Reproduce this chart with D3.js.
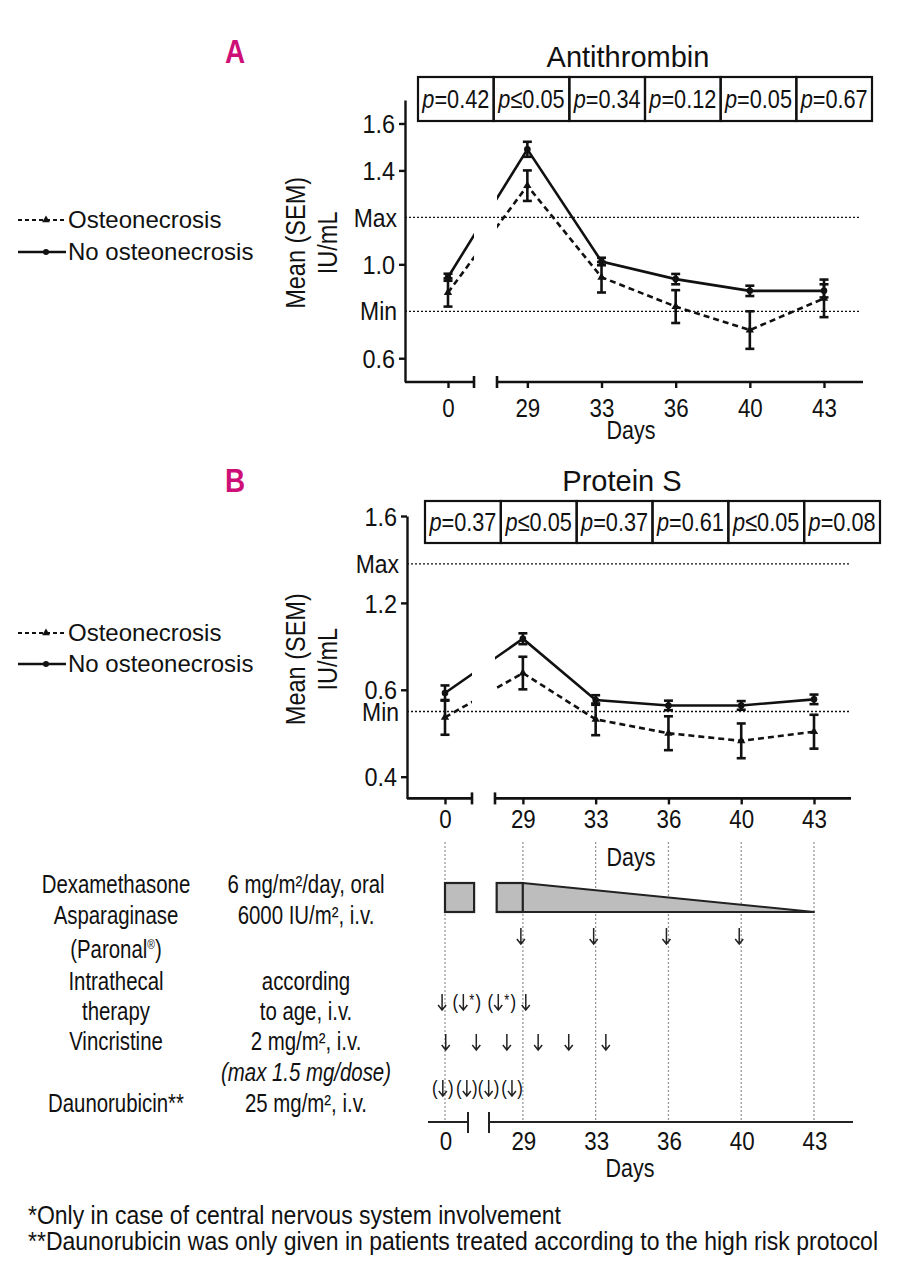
<!DOCTYPE html>
<html>
<head>
<meta charset="utf-8">
<script src="https://cdn.jsdelivr.net/npm/d3@7"></script>
<style>
  body { margin: 0; background: #fff; }
  svg text { fill: #111; }
</style>
</head>
<body>
<svg id="chart" width="899" height="1280"></svg>
<script>
// sampling days (categorical, axis broken between 0 and 29)
const days = ['0', '29', '33', '36', '40', '43'];

// Antithrombin, mean and SEM (IU/mL)
const atOst = [0.88, 1.335, 0.945, 0.82, 0.72, 0.855];
const atOstSem = [0.06, 0.065, 0.065, 0.07, 0.08, 0.08];
const atNoOst = [0.945, 1.49, 1.012, 0.937, 0.887, 0.887];
const atNoOstSem = [0.015, 0.032, 0.016, 0.022, 0.022, 0.028];
const atP = ['=0.42', '≤0.05', '=0.34', '=0.12', '=0.05', '=0.67'];
const atTicks = [0.6, 1.0, 1.4, 1.6];
const atTickLabels = ['0.6', '1.0', '1.4', '1.6'];
const atRange = [0.8, 1.2];

// Protein S, mean and SEM (IU/mL)
const psOst = [0.673, 0.877, 0.664, 0.6, 0.565, 0.607];
const psOstSem = [0.08, 0.075, 0.073, 0.078, 0.08, 0.078];
const psNoOst = [0.785, 1.035, 0.753, 0.728, 0.728, 0.756];
const psNoOstSem = [0.035, 0.025, 0.022, 0.022, 0.02, 0.022];
const psP = ['=0.37', '≤0.05', '=0.37', '=0.61', '≤0.05', '=0.08'];
const psTicks = [0.4, 0.8, 1.2, 1.6];
const psTickLabels = ['0.4', '0.6', '1.2', '1.6']; // printed as in the original figure
const psRange = [0.7, 1.38];

// treatment schedule
const drugNames = ['Dexamethasone', 'Asparaginase', '(Paronal®)', 'Intrathecal', 'therapy', 'Vincristine', 'Daunorubicin**'];
const drugDoses = ['6 mg/m²/day, oral', '6000 IU/m², i.v.', 'according', 'to age, i.v.', '2 mg/m², i.v.', '(max 1.5 mg/dose)', '25 mg/m², i.v.'];
const dexBlocks = [[0, 0.40], [0.71, 1.07]]; // slot units
const dexTaperEnd = '43';
const aspDays = ['29', '33', '36', '40'];
const itSlots = [-0.04, 0.30, 0.78, 1.11];
const itMarks = ['↓', '(↓*)', '(↓*)', '↓'];
const vcrSlots = [0.01, 0.43, 0.85, 1.28, 1.70, 2.21];
const dnrSlots = [-0.03, 0.30, 0.60, 0.92];
const dnrMarks = ['(↓)', '(↓)', '(↓)', '(↓)'];

const footnotes = [
  '*Only in case of central nervous system involvement',
  '**Daunorubicin was only given in patients treated according to the high risk protocol'
];

const SANS = '"Liberation Sans", Arial, sans-serif';
const INK = '#111';
const GAP = 0.07; // extra space after the axis break
const slot = i => (i === 0 ? 0 : i + GAP);

// squeeze text horizontally (no narrow face installed)
function condense(sel, k) {
  sel.each(function () {
    const t = d3.select(this);
    const x = +t.attr('x') || 0;
    const tr = t.attr('transform');
    t.attr('x', x / k).attr('transform', (tr ? tr + ' ' : '') + `scale(${k},1)`);
  });
  return sel;
}

const svg = d3.select('#chart');

const panels = [
  {
    key: 'A', title: 'Antithrombin', ost: atOst, ostSem: atOstSem, no: atNoOst, noSem: atNoOstSem, p: atP,
    ticks: atTicks, tickLabels: atTickLabels, range: atRange,
    letterY: 63, titleX: 628, titleY: 67, box: [418, 872, 77, 121],
    axisX: 405, yRange: [381.7, 100], yDomain: [0.5, 1.7], baseY: 382,
    xRange: [448, 824], xEnd: 863, brk: [474, 497], refEnd: 859,
    tickY: 417, daysY: 439, legendY: [220, 252]
  },
  {
    key: 'B', title: 'Protein S', ost: psOst, ostSem: psOstSem, no: psNoOst, noSem: psNoOstSem, p: psP,
    ticks: psTicks, tickLabels: psTickLabels, range: psRange,
    letterY: 492, titleX: 622, titleY: 491, box: [425, 880, 501, 543],
    axisX: 407, yRange: [798.4, 516], yDomain: [0.3, 1.6], baseY: 798.4,
    xRange: [445, 814], xEnd: 851, brk: [472, 495], refEnd: 849,
    tickY: 828, daysY: 866, legendY: [633, 664]
  }
];

panels.forEach(pn => {
  const g = svg.append('g');
  const x = d3.scaleLinear().domain([0, days.length - 1 + GAP]).range(pn.xRange);
  const y = d3.scaleLinear().domain(pn.yDomain).range(pn.yRange);
  const xp = i => x(slot(i));
  pn.x = x;

  // panel letter and title
  condense(g.append('text').attr('x', 235).attr('y', pn.letterY).attr('text-anchor', 'middle')
    .style('font-family', SANS).style('font-weight', 'bold').style('font-size', '34px')
    .style('fill', '#cf0f78').text(pn.key), 0.82);
  g.append('text').attr('x', pn.titleX).attr('y', pn.titleY).attr('text-anchor', 'middle')
    .style('font-family', SANS).style('font-size', '29px').text(pn.title);

  // p value boxes
  const cw = (pn.box[1] - pn.box[0]) / pn.p.length;
  const cells = g.selectAll('.cell').data(pn.p).enter().append('g');
  cells.append('rect')
    .attr('x', (d, i) => pn.box[0] + i * cw).attr('y', pn.box[2])
    .attr('width', cw).attr('height', pn.box[3] - pn.box[2])
    .attr('fill', 'none').attr('stroke', INK).attr('stroke-width', 2.2);
  const pt = cells.append('text')
    .attr('x', (d, i) => pn.box[0] + (i + 0.5) * cw).attr('y', (pn.box[2] + pn.box[3]) / 2 + 9)
    .attr('text-anchor', 'middle').style('font-family', SANS).style('font-size', '26.5px');
  pt.append('tspan').style('font-style', 'italic').text('p');
  pt.append('tspan').text(d => d);
  condense(pt, 0.82);

  // y axis
  const yAxis = d3.axisLeft(y).tickValues(pn.ticks)
    .tickFormat((d, i) => pn.tickLabels[i]).tickSize(6).tickSizeOuter(0);
  const ya = g.append('g').attr('transform', `translate(${pn.axisX},0)`).call(yAxis);
  ya.attr('font-family', null).attr('font-size', null);
  ya.select('.domain').attr('stroke', INK).attr('stroke-width', 2.4);
  ya.selectAll('.tick line').attr('stroke', INK).attr('stroke-width', 2.4);
  condense(ya.selectAll('.tick text').attr('x', -10).attr('dy', '0.36em')
    .style('font-family', SANS).style('font-size', '25.5px'), 0.92);

  // reference range (Min / Max)
  pn.range.forEach((v, i) => {
    g.append('line').attr('x1', pn.axisX).attr('x2', pn.refEnd).attr('y1', y(v)).attr('y2', y(v))
      .attr('stroke', INK).attr('stroke-width', 1.3).attr('stroke-dasharray', '2,2');
    condense(g.append('text').attr('x', pn.axisX - 8).attr('y', y(v)).attr('dy', '0.36em')
      .attr('text-anchor', 'end').style('font-family', SANS).style('font-size', '25.5px')
      .text(i === 0 ? 'Min' : 'Max'), 0.9);
  });

  // y label
  const yl = g.append('text').attr('transform', `translate(305,${(pn.yRange[0] + pn.yRange[1]) / 2 + 2}) rotate(-90)`)
    .attr('text-anchor', 'middle').style('font-family', SANS).style('font-size', '28px');
  yl.append('tspan').attr('x', 0).attr('y', 0).text('Mean (SEM)');
  yl.append('tspan').attr('x', 0).attr('y', 32).text('IU/mL');
  condense(yl, 0.84);

  // x axis with break
  const xAxis = d3.axisBottom(x).tickValues(days.map((d, i) => slot(i)))
    .tickFormat((d, i) => days[i]).tickSize(6).tickSizeOuter(0);
  const xa = g.append('g').attr('transform', `translate(0,${pn.baseY})`).call(xAxis);
  xa.attr('font-family', null).attr('font-size', null);
  xa.select('.domain').remove();
  xa.selectAll('.tick line').attr('stroke', INK).attr('stroke-width', 2.4);
  condense(xa.selectAll('.tick text').attr('y', pn.tickY - pn.baseY).attr('dy', 0)
    .style('font-family', SANS).style('font-size', '26px'), 0.86);
  [[pn.axisX, pn.brk[0]], [pn.brk[1], pn.xEnd]].forEach(s => {
    g.append('line').attr('x1', s[0]).attr('x2', s[1]).attr('y1', pn.baseY).attr('y2', pn.baseY)
      .attr('stroke', INK).attr('stroke-width', 2.6);
  });
  pn.brk.forEach(bx => {
    g.append('line').attr('x1', bx).attr('x2', bx).attr('y1', pn.baseY - 6).attr('y2', pn.baseY + 6)
      .attr('stroke', INK).attr('stroke-width', 2.6);
  });
  condense(g.append('text').attr('x', 631).attr('y', pn.daysY).attr('text-anchor', 'middle')
    .style('font-family', SANS).style('font-size', '25px').text('Days'), 0.86);

  // clip out the break gap for the lines
  const clip = svg.append('clipPath').attr('id', 'clip' + pn.key);
  clip.append('rect').attr('x', pn.axisX).attr('y', 0).attr('width', pn.brk[0] - pn.axisX).attr('height', 1280);
  clip.append('rect').attr('x', pn.brk[1]).attr('y', 0).attr('width', pn.xEnd - pn.brk[1]).attr('height', 1280);

  const line = d3.line().x((d, i) => xp(i)).y(d => y(d));
  const series = [
    { vals: pn.ost, sem: pn.ostSem, dash: '6,4', mark: 'tri' },
    { vals: pn.no, sem: pn.noSem, dash: null, mark: 'dot' }
  ];
  series.forEach(s => {
    g.append('path').attr('d', line(s.vals)).attr('fill', 'none').attr('stroke', INK)
      .attr('stroke-width', 2.6).attr('stroke-dasharray', s.dash).attr('clip-path', `url(#clip${pn.key})`);
    const eb = g.append('g');
    s.vals.forEach((v, i) => {
      const cx = xp(i), lo = y(v - s.sem[i]), hi = y(v + s.sem[i]);
      eb.append('line').attr('x1', cx).attr('x2', cx).attr('y1', lo).attr('y2', hi)
        .attr('stroke', INK).attr('stroke-width', 2.6);
      [lo, hi].forEach(cy => eb.append('line').attr('x1', cx - 4.5).attr('x2', cx + 4.5)
        .attr('y1', cy).attr('y2', cy).attr('stroke', INK).attr('stroke-width', 2.6));
      if (s.mark === 'dot') {
        eb.append('circle').attr('cx', cx).attr('cy', y(v)).attr('r', 3.3).attr('fill', INK);
      } else {
        eb.append('path').attr('d', d3.symbol(d3.symbolTriangle, 30)())
          .attr('transform', `translate(${cx},${y(v)})`).attr('fill', INK);
      }
    });
  });

  // legend
  pn.legendY.forEach((ly, i) => {
    g.append('line').attr('x1', 18).attr('x2', 66).attr('y1', ly).attr('y2', ly)
      .attr('stroke', INK).attr('stroke-width', i === 0 ? 1.8 : 2.4)
      .attr('stroke-dasharray', i === 0 ? '4,3' : null);
    if (i === 0) {
      g.append('path').attr('d', d3.symbol(d3.symbolTriangle, 26)())
        .attr('transform', `translate(46,${ly})`).attr('fill', INK);
    } else {
      g.append('circle').attr('cx', 46).attr('cy', ly).attr('r', 3).attr('fill', INK);
    }
    g.append('text').attr('x', 68).attr('y', ly + 8)
      .style('font-family', SANS).style('font-size', '24px')
      .text(i === 0 ? 'Osteonecrosis' : 'No osteonecrosis');
  });
});

// ---- treatment schedule (uses the Protein S day scale) ----
const xs = panels[1].x;
const xd = d => xs(slot(days.indexOf(d)));
const sg = svg.append('g');

days.forEach(d => {
  sg.append('line').attr('x1', xd(d)).attr('x2', xd(d)).attr('y1', 842).attr('y2', 1122)
    .attr('stroke', '#999').attr('stroke-width', 1.3).attr('stroke-dasharray', '2,2');
});

// dexamethasone blocks and taper
dexBlocks.forEach(b => {
  sg.append('rect').attr('x', xs(b[0])).attr('y', 883).attr('width', xs(b[1]) - xs(b[0])).attr('height', 29)
    .attr('fill', '#bdbdbd').attr('stroke', '#222').attr('stroke-width', 2.2);
});
const taperStart = xs(dexBlocks[1][1]);
sg.append('path')
  .attr('d', `M${taperStart},883 L${xd(dexTaperEnd)},912 L${taperStart},912 Z`)
  .attr('fill', '#bdbdbd').attr('stroke', '#222').attr('stroke-width', 2).attr('stroke-linejoin', 'round');

// dose marks: arrows drawn as paths, brackets and asterisks as text
const charW = { '(': 6, ')': 6, '*': 7, '↓': 10 };
function drawMark(cx, cy, str) {
  const chars = Array.from(str);
  const total = d3.sum(chars, c => charW[c]);
  let px = cx - total / 2;
  chars.forEach(c => {
    const mid = px + charW[c] / 2;
    if (c === '↓') {
      sg.append('path')
        .attr('d', `M${mid},${cy - 8}V${cy + 8}M${mid - 4},${cy + 3}L${mid},${cy + 8}L${mid + 4},${cy + 3}`)
        .attr('fill', 'none').attr('stroke', '#222').attr('stroke-width', 1.5);
    } else {
      condense(sg.append('text').attr('x', mid).attr('y', c === '*' ? cy + 4 : cy + 7)
        .attr('text-anchor', 'middle').style('font-family', SANS)
        .style('font-size', c === '*' ? '16px' : '21px').text(c), 0.8);
    }
    px += charW[c];
  });
}

aspDays.forEach(d => drawMark(xd(d) - 2, 936, '↓'));
itSlots.forEach((s, i) => drawMark(xs(s), 1002, itMarks[i]));
vcrSlots.forEach(s => drawMark(xs(s), 1042, '↓'));
dnrSlots.forEach((s, i) => drawMark(xs(s), 1088, dnrMarks[i]));

// schedule axis with break
[[428, 468], [489, 853]].forEach(s => {
  sg.append('line').attr('x1', s[0]).attr('x2', s[1]).attr('y1', 1122).attr('y2', 1122)
    .attr('stroke', '#222').attr('stroke-width', 2);
});
[468, 489].forEach(bx => {
  sg.append('line').attr('x1', bx).attr('x2', bx).attr('y1', 1112).attr('y2', 1133)
    .attr('stroke', '#222').attr('stroke-width', 2);
});
days.forEach(d => {
  condense(sg.append('text').attr('x', xd(d) + 1).attr('y', 1150).attr('text-anchor', 'middle')
    .style('font-family', SANS).style('font-size', '26px').text(d), 0.86);
});
condense(sg.append('text').attr('x', 630).attr('y', 1177).attr('text-anchor', 'middle')
  .style('font-family', SANS).style('font-size', '25px').text('Days'), 0.86);

// drug names and doses
const nameY = [893, 924, 958, 990, 1020, 1050, 1112];
const doseY = [893, 924, 990, 1020, 1050, 1081, 1112];
drugNames.forEach((n, i) => {
  const t = sg.append('text').attr('x', 116).attr('y', nameY[i]).attr('text-anchor', 'middle')
    .style('font-family', SANS).style('font-size', '25.5px');
  if (n.includes('®')) {
    const parts = n.split('®');
    t.append('tspan').text(parts[0]);
    t.append('tspan').attr('dy', -9).style('font-size', '13px').text('®');
    t.append('tspan').attr('dy', 9).text(parts[1]);
  } else {
    t.text(n);
  }
  condense(t, 0.8);
});
drugDoses.forEach((n, i) => {
  condense(sg.append('text').attr('x', 306).attr('y', doseY[i]).attr('text-anchor', 'middle')
    .style('font-family', SANS).style('font-size', '25.5px')
    .style('font-style', n.startsWith('(max') ? 'italic' : 'normal').text(n), 0.8);
});

// footnotes
footnotes.forEach((f, i) => {
  condense(svg.append('text').attr('x', 28).attr('y', 1224 + i * 26)
    .style('font-family', SANS).style('font-size', '25px').text(f), 0.92);
});
</script>
</body>
</html>
